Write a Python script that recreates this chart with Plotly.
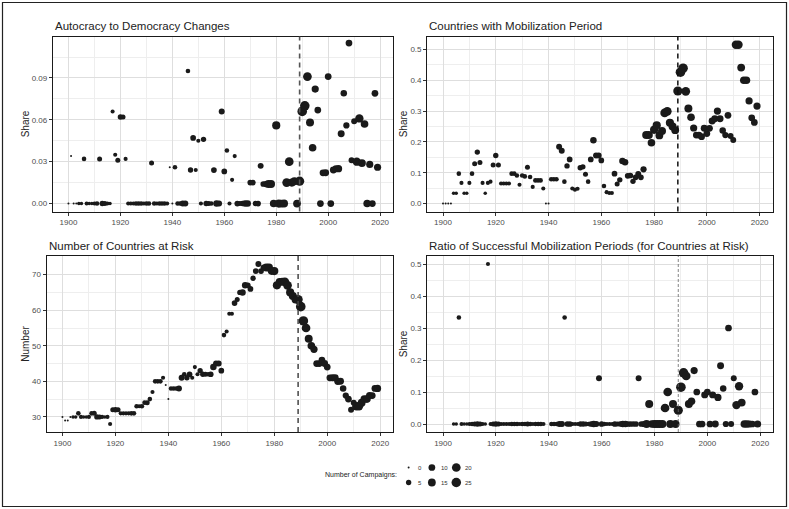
import math
import plotly.graph_objects as go

# ---------------- data ----------------
years = list(range(1900, 2020))

campaigns = [
    0, 0, 0, 0, 1, 1, 3, 2, 1, 1,          # 1900-1909
    2, 3, 4, 5, 4, 2, 1, 2, 2, 4,          # 1910-1919
    5, 4, 2, 2, 2, 2, 3, 3, 3, 2,          # 1920-1929
    3, 3, 4, 3, 2, 3, 3, 3, 2, 0,          # 1930-1939
    0, 3, 3, 3, 7, 7, 3, 5, 6, 2,          # 1940-1949
    2, 2, 5, 5, 4, 3, 6, 9, 7, 7,          # 1950-1959
    6, 3, 2, 2, 2, 6, 4, 5, 9, 9,          # 1960-1969
    6, 6, 5, 6, 7, 6, 8, 16, 16, 14,       # 1970-1979
    17, 17, 15, 16, 20, 20, 17, 16, 15, 23,  # 1980-1989
    26, 25, 20, 16, 14, 12, 10, 10, 10, 11,  # 1990-1999
    10, 10, 11, 11, 12, 11, 9, 8, 10, 7,   # 2000-2009
    7, 18, 18, 15, 14, 14, 12, 10, 10, 12, # 2010-2019
]

autocracy_to_democracy = [
    0, 0.034, 0, 0, 0, 0, 0.032, 0, 0, 0,
    0, 0, 0.032, 0, 0, 0, 0, 0.066, 0.035, 0.031,
    0.062, 0.062, 0.032, 0, 0, 0, 0, 0, 0, 0,
    0, 0, 0.029, 0, 0, 0, 0, 0, 0, 0.026,
    0, 0.026, 0, 0, 0, 0, 0.095, 0.024, 0.047, 0.024,
    0.045, 0, 0.046, 0, 0, 0, 0.024, 0, 0, 0.066,
    0.023, 0.038, 0, 0.017, 0.034, 0, 0, 0, 0, 0,
    0.015, 0.015, 0, 0, 0.027, 0.014, 0.014, 0.014, 0.014, 0,
    0.056, 0, 0, 0, 0.015, 0.030, 0.015, 0.016, 0, 0.016,
    0.066, 0.070, 0.091, 0.058, 0.040, 0.082, 0.067, 0, 0.022, 0.022,
    0.091, 0, 0.024, 0.025, 0.025, 0.050, 0.079, 0.056, 0.115, 0.031,
    0.059, 0.030, 0.061, 0.029, 0.057, 0, 0.028, 0, 0.079, 0.026,
]

mobilization_share = [
    0, 0, 0, 0, 0.033, 0.033, 0.097, 0.067, 0.033, 0.033,
    0.067, 0.097, 0.129, 0.167, 0.133, 0.067, 0.033, 0.067, 0.071, 0.125,
    0.156, 0.125, 0.065, 0.065, 0.065, 0.065, 0.097, 0.097, 0.091, 0.061,
    0.091, 0.088, 0.118, 0.086, 0.054, 0.075, 0.075, 0.075, 0.049, 0,
    0, 0.079, 0.079, 0.079, 0.184, 0.171, 0.071, 0.122, 0.143, 0.049,
    0.045, 0.048, 0.116, 0.119, 0.095, 0.071, 0.143, 0.205, 0.156, 0.156,
    0.140, 0.057, 0.037, 0.034, 0.034, 0.097, 0.063, 0.077, 0.138, 0.134,
    0.090, 0.091, 0.072, 0.085, 0.096, 0.085, 0.111, 0.222, 0.222, 0.197,
    0.239, 0.254, 0.221, 0.235, 0.294, 0.299, 0.262, 0.250, 0.238, 0.365,
    0.426, 0.439, 0.364, 0.308, 0.280, 0.245, 0.222, 0.222, 0.217, 0.244,
    0.227, 0.244, 0.268, 0.275, 0.300, 0.275, 0.237, 0.222, 0.286, 0.219,
    0.206, 0.515, 0.515, 0.441, 0.400, 0.400, 0.333, 0.278, 0.263, 0.316,
]

countries_at_risk = [
    30, 29, 29, 30, 30, 30, 31, 30, 30, 30,
    30, 31, 31, 30, 30, 30, 30, 30, 28, 32,
    32, 32, 31, 31, 31, 31, 31, 31, 33, 33,
    33, 34, 34, 35, 37, 40, 40, 40, 41, 39,
    35, 38, 38, 38, 38, 41, 42, 41, 42, 41,
    44, 42, 43, 42, 42, 42, 42, 44, 45, 45,
    43, 53, 54, 59, 59, 62, 63, 65, 65, 67,
    67, 66, 69, 71, 73, 71, 72, 72, 72, 71,
    71, 67, 68, 68, 68, 67, 65, 64, 63, 63,
    61, 57, 55, 52, 50, 49, 45, 45, 46, 45,
    44, 41, 41, 41, 40, 40, 38, 36, 35, 32,
    34, 33, 33, 34, 35, 35, 36, 36, 38, 38,
]

success_ratio = [
    None, None, None, None, 0, 0, 0.333, 0, 0, 0,
    0, 0, 0, 0, 0, 0, 0, 0.5, 0, 0,
    0, 0, 0, 0, 0, 0, 0, 0, 0, 0,
    0, 0, 0, 0, 0, 0, 0, 0, 0, None,
    None, 0, 0, 0, 0, 0, 0.333, 0, 0, 0,
    0, 0, 0, 0, 0, 0, 0, 0, 0, 0.143,
    0, 0, 0, 0, 0, 0, 0, 0, 0, 0,
    0, 0, 0, 0, 0.143, 0, 0, 0, 0.0625, 0,
    0, 0, 0, 0, 0.05, 0.10, 0, 0.0625, 0, 0.043,
    0.115, 0.16, 0.15, 0.0625, 0.071, 0.167, 0.10, 0, 0, 0.091,
    0.10, 0, 0.091, 0, 0.083, 0.182, 0.111, 0, 0.30, 0,
    0.143, 0.059, 0.118, 0.067, 0, 0, 0, 0, 0.10, 0,
]

legend_values = [0, 10, 20, 5, 15, 25]
legend_title = "Number of Campaigns:"

panel_titles = [
    "Autocracy to Democracy Changes",
    "Countries with Mobilization Period",
    "Number of Countries at Risk",
    "Ratio of Successful Mobilization Periods (for Countries at Risk)",
]
y_titles = ["Share", "Share", "Number", "Share"]
x_ticks = [1900, 1920, 1940, 1960, 1980, 2000, 2020]
cutoff_year = 1989

# ---------------- styling ----------------
W, H = 789, 509
FONT = "Liberation Sans, Arial, Helvetica, sans-serif"
DOT = "#1a1a1a"


def msize(c):
    return 2 + 7.5 * math.sqrt(c / 25.0)


def px_x(p):
    return p / W


def px_y(p):
    return 1 - p / H


sizes = [msize(c) for c in campaigns]

panels = [
    dict(vals=autocracy_to_democracy, xdom=(53, 393), ydom=(36.5, 211.5),
         yr=(-0.0057, 0.1197), dtick=0.03, fmt=".2f",
         vline=dict(color="#555555", width=1.6, dash="5px,4px")),
    dict(vals=mobilization_share, xdom=(427.3, 772.7), ydom=(36.5, 211.5),
         yr=(-0.0258, 0.5418), dtick=0.1, fmt=".1f",
         vline=dict(color="#111111", width=1.5, dash="5px,4px")),
    dict(vals=countries_at_risk, xdom=(46.7, 393.3), ydom=(256, 432),
         yr=(25.75, 75.25), dtick=10, fmt="d",
         vline=dict(color="#444444", width=1.5, dash="5px,4px")),
    dict(vals=success_ratio, xdom=(427.3, 773.3), ydom=(256, 432),
         yr=(-0.025, 0.525), dtick=0.1, fmt=".1f",
         vline=dict(color="#666666", width=0.8, dash="3px,2px")),
]

fig = go.Figure()
layout = dict(
    width=W, height=H,
    margin=dict(l=0, r=0, t=0, b=0),
    paper_bgcolor="white", plot_bgcolor="white",
    showlegend=False,
    font=dict(family=FONT, color="#222222"),
)
shapes = []
annotations = []

for i, p in enumerate(panels):
    n = i + 1
    xa = "x" if n == 1 else f"x{n}"
    ya = "y" if n == 1 else f"y{n}"
    fig.add_trace(go.Scatter(
        x=years, y=p["vals"], mode="markers",
        marker=dict(size=sizes, color=DOT, opacity=1, line=dict(width=0)),
        xaxis=xa, yaxis=ya, hoverinfo="x+y",
    ))
    common_axis = dict(
        showline=True, mirror=True, linecolor="#1a1a1a", linewidth=1.3,
        ticks="outside", ticklen=3, tickcolor="#333333", tickwidth=1,
        tickfont=dict(size=8, color="#4d4d4d", family=FONT),
        showgrid=True, gridcolor="#dedede", gridwidth=1,
        zeroline=False,
    )
    layout[f"xaxis{'' if n == 1 else n}"] = dict(
        common_axis,
        domain=[px_x(p["xdom"][0]), px_x(p["xdom"][1])],
        range=[1894.05, 2024.95], tickvals=x_ticks,
        minor=dict(dtick=10, tick0=1910, showgrid=True, gridcolor="#eeeeee", gridwidth=0.6, ticks=""),
        anchor=ya,
    )
    layout[f"yaxis{'' if n == 1 else n}"] = dict(
        common_axis,
        domain=[px_y(p["ydom"][1]), px_y(p["ydom"][0])],
        range=list(p["yr"]), dtick=p["dtick"], tick0=0, tickformat=p["fmt"],
        minor=dict(dtick=p["dtick"] / 2, showgrid=True, gridcolor="#eeeeee", gridwidth=0.6, ticks=""),
        title=dict(text=y_titles[i], font=dict(size=10, color="#222222", family=FONT), standoff=0),
        anchor=xa,
    )
    shapes.append(dict(
        type="line", xref=xa, yref=f"{ya} domain",
        x0=cutoff_year, x1=cutoff_year, y0=0, y1=1,
        line=p["vline"], layer="above",
    ))
    annotations.append(dict(
        text=panel_titles[i], x=px_x(p["xdom"][0]), y=px_y(p["ydom"][0] - 10.5),
        xref="paper", yref="paper", xanchor="left", yanchor="middle",
        showarrow=False, font=dict(size=11.5, color="#222222", family=FONT),
    ))

# ----- size legend on its own hidden axis -----
col_pos = [0.5, 1.5, 2.55]
row_pos = [1.5, 0.5]
lx, ly = [], []
for k, v in enumerate(legend_values):
    lx.append(col_pos[k % 3])
    ly.append(row_pos[k // 3])
fig.add_trace(go.Scatter(
    x=lx, y=ly, mode="markers",
    marker=dict(size=[msize(v) for v in legend_values], color=DOT, opacity=1, line=dict(width=0)),
    xaxis="x5", yaxis="y5", hoverinfo="skip",
))
for k, v in enumerate(legend_values):
    annotations.append(dict(
        text=str(v), x=lx[k], y=ly[k], xref="x5", yref="y5",
        xanchor="left", yanchor="middle", xshift=7, showarrow=False,
        font=dict(size=6, color="#333333", family=FONT),
    ))
layout["xaxis5"] = dict(domain=[px_x(397), px_x(490)], range=[0, 4], visible=False, anchor="y5", fixedrange=True)
layout["yaxis5"] = dict(domain=[px_y(490), px_y(460)], range=[0, 2], visible=False, anchor="x5", fixedrange=True)
annotations.append(dict(
    text=legend_title, x=px_x(399), y=px_y(475), xref="paper", yref="paper",
    xanchor="right", yanchor="middle", showarrow=False,
    font=dict(size=7, color="#222222", family=FONT),
))

# outer frame
shapes.append(dict(
    type="rect", xref="paper", yref="paper",
    x0=px_x(2.5), x1=px_x(786.5), y0=px_y(506.5), y1=px_y(2.5),
    line=dict(color="#222222", width=1.2), fillcolor="rgba(0,0,0,0)", layer="above",
))

layout["shapes"] = shapes
layout["annotations"] = annotations
fig.update_layout(**layout)

fig.write_html(
    "out.html",
    config={"displayModeBar": False},
    post_script="document.body.style.margin='0';document.body.style.overflow='hidden';"
                "document.documentElement.style.overflow='hidden';",
)
